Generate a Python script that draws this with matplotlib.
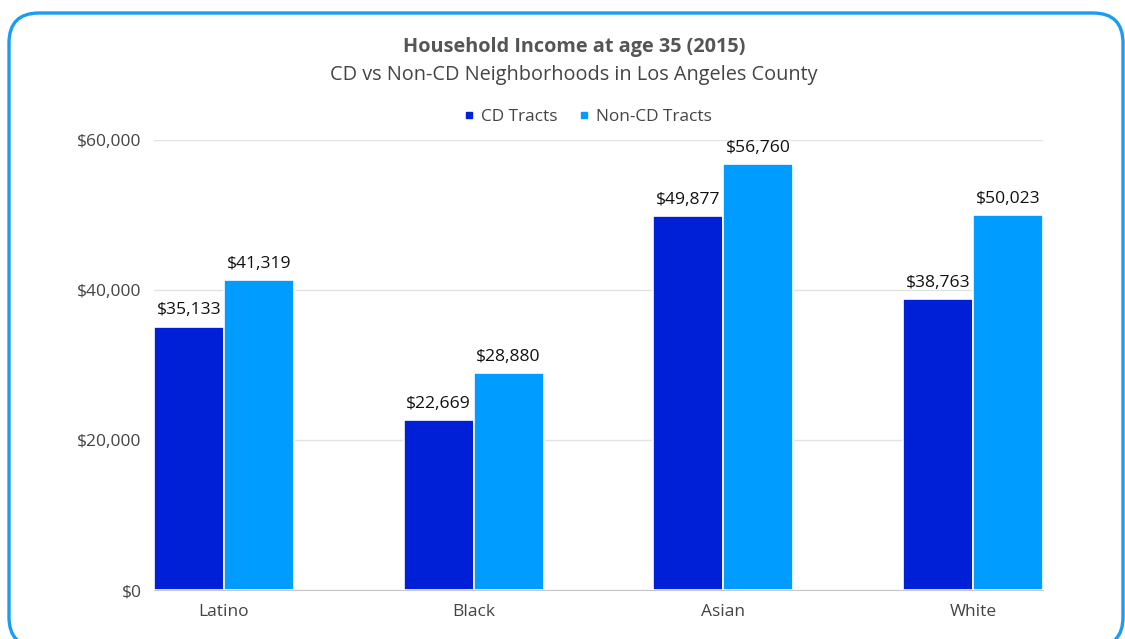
import matplotlib
matplotlib.use("Agg")
import matplotlib.pyplot as plt
import numpy as np
from matplotlib.patches import FancyBboxPatch
from matplotlib.lines import Line2D
from matplotlib.transforms import IdentityTransform
from matplotlib.ticker import FuncFormatter

plt.rcParams['font.family'] = ['Open Sans', 'DejaVu Sans']

# data
groups = ["Latino", "Black", "Asian", "White"]
cd_tracts = [35133, 22669, 49877, 38763]
non_cd_tracts = [41319, 28880, 56760, 50023]
series_names = ["CD Tracts", "Non-CD Tracts"]
colors = ["#0020D8", "#009CFF"]

W, H = 1125, 639
fig = plt.figure(figsize=(W / 100, H / 100), dpi=100)
fig.patch.set_facecolor("white")

# axes placed in pixel terms
left, right, top, bottom = 154, 1043, 140, 590
ax = fig.add_axes([left / W, 1 - bottom / H, (right - left) / W, (bottom - top) / H])

x = np.arange(len(groups))
bw = 0.28
for i, (vals, name, c) in enumerate(zip([cd_tracts, non_cd_tracts], series_names, colors)):
    pos = x + (i - 0.5) * bw
    bars = ax.bar(pos, vals, width=bw, color=c, edgecolor="white", linewidth=1.2,
                  label=name, zorder=3)
    for b, v in zip(bars, vals):
        ax.text(b.get_x() + b.get_width() / 2, v + 1100, "${:,}".format(v),
                ha="center", va="bottom", fontsize=12.6, color="#111111")

ax.set_xlim(-0.28, len(groups) - 1 + 0.28)
ax.set_ylim(0, 60000)
ax.set_yticks([0, 20000, 40000, 60000])
ax.yaxis.set_major_formatter(FuncFormatter(lambda v, p: "${:,.0f}".format(v)))
ax.set_xticks(x)
ax.set_xticklabels(groups)
ax.tick_params(axis="both", length=0, labelsize=12.5, labelcolor="#444444")
ax.tick_params(axis="y", pad=9)
ax.tick_params(axis="x", pad=10)
ax.grid(axis="y", color="#e3e3e3", linewidth=1, zorder=0)
for s in ["top", "right", "left"]:
    ax.spines[s].set_visible(False)
ax.spines["bottom"].set_color("#c8c8c8")
ax.spines["bottom"].set_zorder(4)

# titles
cx = 574 / W
fig.text(cx, 1 - 47 / H, "Household Income at age 35 (2015)", ha="center", va="center",
         fontsize=14.3, fontweight="bold", color="#555555")
fig.text(cx, 1 - 75 / H, "CD vs Non-CD Neighborhoods in Los Angeles County", ha="center",
         va="center", fontsize=14.3, color="#444444")

handles = [Line2D([], [], linestyle="none", marker="s", markersize=5, color=c) for c in colors]
leg = fig.legend(handles, series_names, loc="center", bbox_to_anchor=(588 / W, 1 - 117 / H),
                 ncol=2, frameon=False, fontsize=12.4, handlelength=0.6, handletextpad=0.4,
                 columnspacing=1.2, labelcolor="#444444")

# rounded blue border
border = FancyBboxPatch((9, -8), 1114, H - 13 + 8, boxstyle="round,pad=0,rounding_size=30",
                        transform=IdentityTransform(), facecolor="none",
                        edgecolor="#1a9cf5", linewidth=2.4)
fig.patches.append(border)

fig.savefig("out.png", dpi=100)
